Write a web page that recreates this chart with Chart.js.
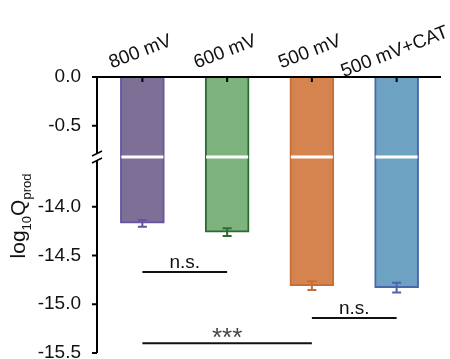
<!DOCTYPE html>
<html>
<head>
<meta charset="utf-8">
<script src="https://cdn.jsdelivr.net/npm/chart.js@4"></script>
<style>
  html, body { margin: 0; padding: 0; background: #fff; }
  canvas { display: block; }
</style>
</head>
<body>
<canvas id="qChart" width="450" height="359"></canvas>
<script>
const categories = ['800 mV', '600 mV', '500 mV', '500 mV+CAT'];
const means = [-14.17, -14.26, -14.81, -14.83];
const errors = [0.035, 0.04, 0.045, 0.05];
const tickValues = [0, -0.5, -14.0, -14.5, -15.0, -15.5];
const fillColors = ['#7e6f96', '#7db37c', '#d5844f', '#6ea2c2'];
const edgeColors = ['#6554a0', '#2c6b36', '#c56e38', '#4b66aa'];

// significance brackets
const sigFrom = [0, 2, 0];
const sigTo = [1, 3, 2];
const sigY = [-14.67, -15.14, -15.40];
const sigText = ['n.s.', 'n.s.', '***'];

// broken axis: upper part 0 .. -0.82, lower part -13.49 .. -15.5
const breakAt = -0.82;
const shift = 12.67;
const yMin = -15.5;

function toAxis(v) {
    return v > -1 ? v : v + shift;
}
function fromAxis(v) {
    return v > breakAt ? v : v - shift;
}

const font = 'Liberation Sans, Arial, sans-serif';

const drawExtras = {
    id: 'drawExtras',
    afterDatasetsDraw(chart) {
        const ctx = chart.ctx;
        const x = chart.scales.x;
        const y = chart.scales.y;
        const area = chart.chartArea;
        const meta = chart.getDatasetMeta(0);
        const yBreak = y.getPixelForValue(breakAt);
        const axisX = area.left - 3;

        ctx.save();

        // white break strip through each bar + error bars
        meta.data.forEach((bar, i) => {
            const half = bar.width / 2;
            ctx.fillStyle = '#fff';
            ctx.fillRect(bar.x - half + 1, yBreak - 1.5, bar.width - 2, 3);

            const top = y.getPixelForValue(toAxis(means[i] + errors[i]));
            const bot = y.getPixelForValue(toAxis(means[i] - errors[i]));
            ctx.strokeStyle = edgeColors[i];
            ctx.lineWidth = 2;
            ctx.beginPath();
            ctx.moveTo(bar.x, top);
            ctx.lineTo(bar.x, bot);
            ctx.moveTo(bar.x - 4.5, top);
            ctx.lineTo(bar.x + 4.5, top);
            ctx.moveTo(bar.x - 4.5, bot);
            ctx.lineTo(bar.x + 4.5, bot);
            ctx.stroke();
        });

        // x axis line at the top with small inward ticks
        ctx.strokeStyle = '#000';
        ctx.lineWidth = 2;
        ctx.beginPath();
        ctx.moveTo(axisX - 1, area.top);
        ctx.lineTo(area.right + 2, area.top);
        categories.forEach((c, i) => {
            const cx = x.getPixelForValue(i);
            ctx.moveTo(cx, area.top);
            ctx.lineTo(cx, area.top + 5);
        });
        ctx.stroke();

        // y axis line with the break
        ctx.beginPath();
        ctx.moveTo(axisX, area.top);
        ctx.lineTo(axisX, yBreak - 4);
        ctx.moveTo(axisX, yBreak + 4);
        ctx.lineTo(axisX, y.getPixelForValue(toAxis(yMin)));
        tickValues.forEach(v => {
            const py = y.getPixelForValue(toAxis(v));
            ctx.moveTo(axisX - 5, py);
            ctx.lineTo(axisX, py);
        });
        ctx.stroke();
        ctx.lineWidth = 1.5;
        ctx.beginPath();
        ctx.moveTo(axisX - 5, yBreak - 1);
        ctx.lineTo(axisX + 5, yBreak - 6);
        ctx.moveTo(axisX - 5, yBreak + 6);
        ctx.lineTo(axisX + 5, yBreak + 1);
        ctx.stroke();

        // significance brackets
        ctx.lineWidth = 2;
        ctx.textAlign = 'center';
        ctx.textBaseline = 'alphabetic';
        sigText.forEach((t, i) => {
            const x1 = x.getPixelForValue(sigFrom[i]);
            const x2 = x.getPixelForValue(sigTo[i]);
            const py = y.getPixelForValue(toAxis(sigY[i]));
            ctx.strokeStyle = '#111';
            ctx.beginPath();
            ctx.moveTo(x1, py);
            ctx.lineTo(x2, py);
            ctx.stroke();
            if (t === '***') {
                ctx.fillStyle = '#444';
                ctx.font = '26px ' + font;
                ctx.fillText(t, (x1 + x2) / 2, py + 3);
            } else {
                ctx.fillStyle = '#111';
                ctx.font = '19px ' + font;
                ctx.fillText(t, (x1 + x2) / 2, py - 4);
            }
        });

        // rotated category labels above the top axis
        ctx.fillStyle = '#111';
        ctx.font = '19px ' + font;
        ctx.textBaseline = 'middle';
        categories.forEach((c, i) => {
            const cx = x.getPixelForValue(i);
            ctx.save();
            ctx.translate(cx - 2, area.top - 25);
            ctx.rotate(-21 * Math.PI / 180);
            ctx.fillText(c, 0, 0);
            ctx.restore();
        });

        // y axis title: log10 Q prod
        const parts = [
            { t: 'log', size: 21, dy: 0 },
            { t: '10', size: 13, dy: 6 },
            { t: 'Q', size: 21, dy: 0 },
            { t: 'prod', size: 13, dy: 6 }
        ];
        let total = 0;
        parts.forEach(p => {
            ctx.font = p.size + 'px ' + font;
            p.w = ctx.measureText(p.t).width;
            total += p.w;
        });
        ctx.save();
        ctx.translate(25, 216);
        ctx.rotate(-Math.PI / 2);
        ctx.textAlign = 'left';
        ctx.textBaseline = 'alphabetic';
        let pos = -total / 2;
        parts.forEach(p => {
            ctx.font = p.size + 'px ' + font;
            ctx.fillText(p.t, pos, p.dy);
            pos += p.w;
        });
        ctx.restore();

        ctx.restore();
    }
};

new Chart(document.getElementById('qChart'), {
    type: 'bar',
    data: {
        labels: categories,
        datasets: [{
            data: means.map(toAxis),
            backgroundColor: fillColors,
            borderColor: edgeColors,
            borderWidth: 2,
            barThickness: 44
        }]
    },
    options: {
        responsive: false,
        animation: false,
        devicePixelRatio: 1,
        layout: { padding: { top: 0, right: 11, bottom: 6, left: 0 } },
        plugins: {
            legend: { display: false },
            tooltip: { enabled: false }
        },
        scales: {
            x: {
                position: 'top',
                grid: { display: false },
                border: { display: false },
                ticks: { display: false },
                afterFit(scale) { scale.height = 77; }
            },
            y: {
                min: toAxis(yMin),
                max: 0,
                grid: { display: false },
                border: { display: false },
                afterFit(scale) {
                    scale.width = 100;
                    scale.paddingTop = 0;
                    scale.paddingBottom = 0;
                },
                afterBuildTicks(scale) {
                    scale.ticks = tickValues.map(v => ({ value: toAxis(v) }));
                },
                ticks: {
                    autoSkip: false,
                    padding: 11,
                    color: '#111',
                    font: { family: font, size: 19 },
                    callback: v => fromAxis(v).toFixed(1)
                }
            }
        }
    },
    plugins: [drawExtras]
});
</script>
</body>
</html>
